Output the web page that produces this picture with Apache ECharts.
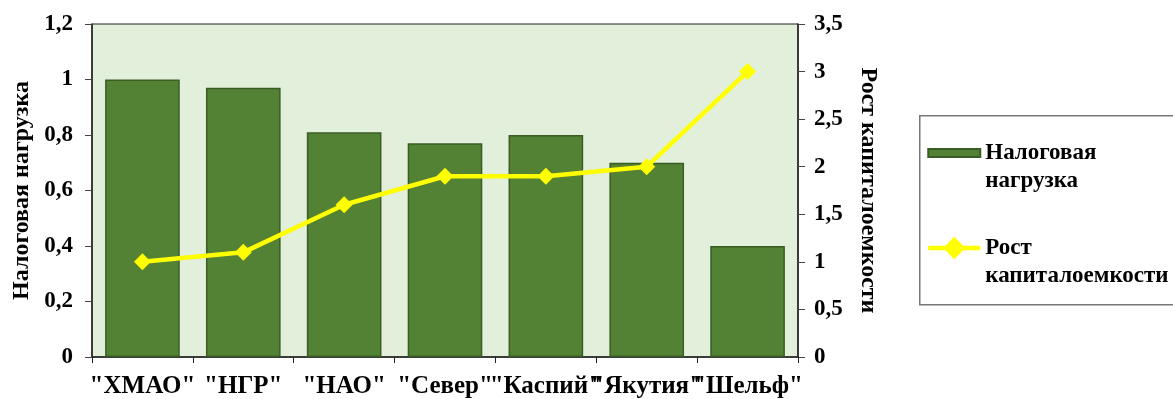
<!DOCTYPE html>
<html>
<head>
<meta charset="utf-8">
<script src="https://cdn.jsdelivr.net/npm/echarts@6/dist/echarts.min.js"></script>
<style>
  html, body { margin: 0; padding: 0; background: #ffffff; }
  #chart { width: 1173px; height: 399px; }
</style>
</head>
<body>
<div id="chart"></div>
<script>
// Regions
const categories = ['"ХМАО"', '"НГР"', '"НАО"', '"Север"', '"Каспий"', '"Якутия"', '"Шельф"'];
// Tax burden (left axis)
const taxLoad = [1.0, 0.97, 0.81, 0.77, 0.80, 0.70, 0.40];
// Capital intensity growth (right axis)
const capGrowth = [1.0, 1.1, 1.6, 1.9, 1.9, 2.0, 3.0];

const seriesNames = ['Налоговая нагрузка', 'Рост капиталоемкости'];
// Leading blank line keeps the first text line level with the legend icon
const legendLabels = {
  'Налоговая нагрузка': '\nНалоговая\nнагрузка',
  'Рост капиталоемкости': '\nРост\nкапиталоемкости'
};

const FONT = '"Liberation Serif", "Times New Roman", serif';
const comma = v => String(v).replace('.', ',');

const chart = echarts.init(document.getElementById('chart'), null, { renderer: 'canvas' });

chart.setOption({
  animation: false,
  textStyle: { fontFamily: FONT },
  grid: {
    left: 92, right: 375, top: 24, bottom: 42,
    show: true,
    backgroundColor: '#e2efda',
    borderColor: '#222',
    borderWidth: 1
  },
  graphic: [{
    type: 'rect',
    left: 919, top: 115,
    shape: { width: 300, height: 189 },
    style: { fill: '#ffffff', stroke: '#777777', lineWidth: 1.5 },
    z: -1
  }],
  legend: {
    orient: 'vertical',
    left: 926, top: 111,
    padding: 0,
    itemWidth: 52, itemHeight: 28,
    itemGap: 11,
    itemTextGap: 6,
    data: [{
      name: seriesNames[0],
      // flat bar swatch inside a taller icon box
      icon: 'path://M0,0M0,28M0,10h52v8h-52z'
    }, {
      name: seriesNames[1]
    }],
    formatter: name => legendLabels[name],
    lineStyle: { width: 4.5 },
    textStyle: {
      fontFamily: FONT, fontWeight: 'bold', fontSize: 23, color: '#000',
      lineHeight: 28
    }
  },
  xAxis: {
    type: 'category',
    data: categories,
    axisLine: { lineStyle: { color: '#222', width: 1.5 } },
    axisTick: { show: true, alignWithLabel: false, length: 6, lineStyle: { color: '#222' } },
    axisLabel: {
      interval: 0, margin: 17,
      fontFamily: FONT, fontWeight: 'bold', fontSize: 25, color: '#000'
    }
  },
  yAxis: [{
    type: 'value',
    min: 0, max: 1.2, interval: 0.2,
    name: 'Налоговая нагрузка',
    nameLocation: 'middle',
    nameGap: 58,
    nameTextStyle: { fontFamily: FONT, fontWeight: 'bold', fontSize: 24, color: '#000' },
    splitLine: { show: false },
    axisLine: { show: true, lineStyle: { color: '#222', width: 1.5 } },
    axisTick: { show: true, inside: false, length: 7, lineStyle: { color: '#444' } },
    axisLabel: {
      margin: 19,
      fontFamily: FONT, fontWeight: 'bold', fontSize: 23, color: '#000',
      formatter: v => comma(+v.toFixed(1))
    }
  }, {
    type: 'value',
    position: 'right',
    min: 0, max: 3.5, interval: 0.5,
    name: 'Рост капиталоемкости',
    nameLocation: 'middle',
    nameRotate: -90,
    nameGap: 58,
    nameTextStyle: { fontFamily: FONT, fontWeight: 'bold', fontSize: 24, color: '#000' },
    splitLine: { show: false },
    axisLine: { show: true, lineStyle: { color: '#222', width: 1.5 } },
    axisTick: { show: true, length: 7, lineStyle: { color: '#444' } },
    axisLabel: {
      margin: 16,
      fontFamily: FONT, fontWeight: 'bold', fontSize: 23, color: '#000',
      formatter: v => comma(+v.toFixed(1))
    }
  }],
  series: [{
    name: seriesNames[0],
    type: 'bar',
    yAxisIndex: 0,
    data: taxLoad,
    barWidth: '74%',
    itemStyle: { color: '#548235', borderColor: '#3a5d25', borderWidth: 1.5 }
  }, {
    name: seriesNames[1],
    type: 'line',
    yAxisIndex: 1,
    data: capGrowth,
    symbol: 'diamond',
    symbolSize: 17,
    lineStyle: { color: '#ffff00', width: 4.5 },
    itemStyle: { color: '#ffff00' }
  }]
});
</script>
</body>
</html>
